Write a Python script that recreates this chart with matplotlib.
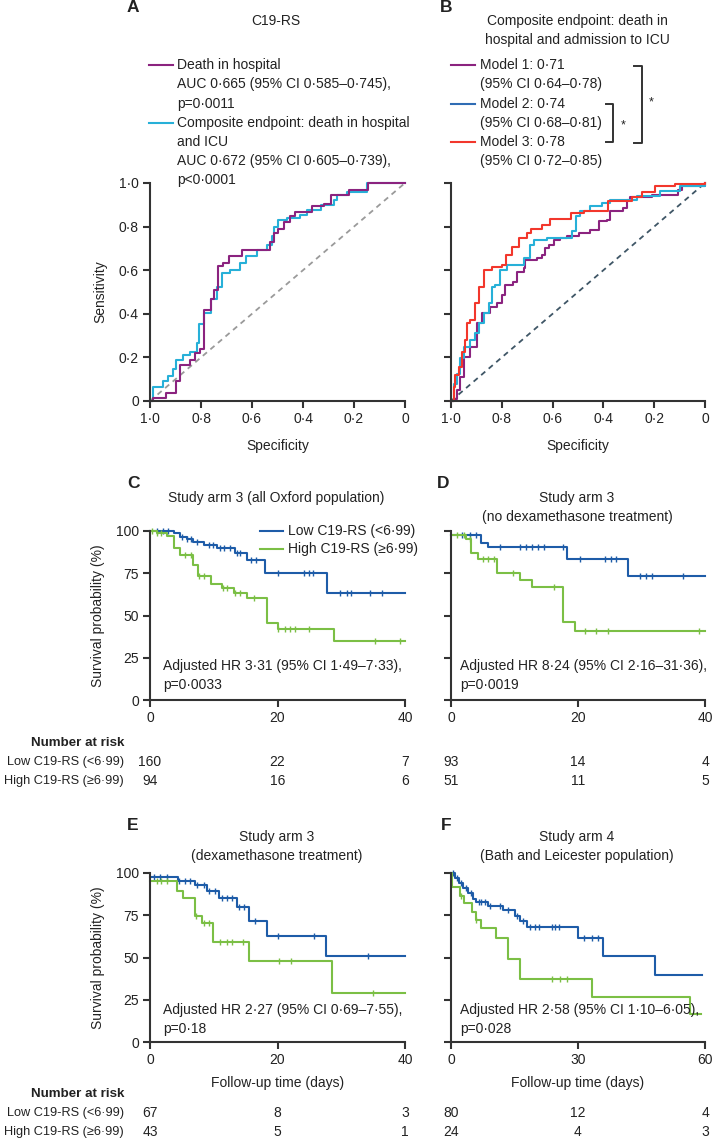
import numpy as np
import matplotlib
matplotlib.use("Agg")
from matplotlib import pyplot as plt
from matplotlib.lines import Line2D

plt.rcParams['font.family'] = ['Liberation Sans', 'DejaVu Sans']
plt.rcParams['font.size'] = 10
FS = 10

W, H = 714, 1139

# ---------------- data: ROC curves (specificity, sensitivity) ----------------
a_death_spec = [1.0, 0.99, 0.938, 0.899, 0.882, 0.843, 0.823, 0.803, 0.79, 0.761, 0.75, 0.735,
                0.714, 0.69, 0.64, 0.53, 0.515, 0.50, 0.475, 0.45, 0.43, 0.364, 0.318, 0.29,
                0.22, 0.145, 0.0]
a_death_sens = [0.0, 0.014, 0.038, 0.092, 0.167, 0.187, 0.22, 0.24, 0.417, 0.47, 0.51, 0.617,
                0.635, 0.666, 0.693, 0.73, 0.77, 0.79, 0.82, 0.847, 0.867, 0.893, 0.903, 0.943,
                0.969, 1.0, 1.0]
a_comp_spec = [1.0, 0.99, 0.948, 0.928, 0.908, 0.9, 0.869, 0.843, 0.816, 0.807, 0.787, 0.761,
               0.738, 0.718, 0.685, 0.646, 0.624, 0.58, 0.541, 0.52, 0.512, 0.50, 0.462, 0.41,
               0.384, 0.331, 0.279, 0.266, 0.226, 0.15, 0.0]
a_comp_sens = [0.0, 0.064, 0.092, 0.113, 0.149, 0.187, 0.21, 0.225, 0.264, 0.353, 0.402, 0.47,
               0.525, 0.586, 0.601, 0.632, 0.663, 0.693, 0.716, 0.755, 0.80, 0.831, 0.839, 0.854,
               0.877, 0.90, 0.923, 0.946, 0.96, 1.0, 1.0]

b_m1_spec = [1.0, 0.99, 0.976, 0.963, 0.95, 0.924, 0.898, 0.878, 0.845, 0.819, 0.799, 0.786,
             0.754, 0.74, 0.714, 0.708, 0.662, 0.642, 0.629, 0.616, 0.596, 0.57, 0.544, 0.498,
             0.452, 0.419, 0.387, 0.374, 0.321, 0.308, 0.295, 0.21, 0.105, 0.092, 0.0]
b_m1_sens = [0.0, 0.011, 0.049, 0.11, 0.202, 0.248, 0.356, 0.402, 0.433, 0.448, 0.486, 0.532,
             0.548, 0.594, 0.609, 0.647, 0.655, 0.67, 0.701, 0.716, 0.739, 0.747, 0.755, 0.77,
             0.785, 0.824, 0.831, 0.87, 0.885, 0.923, 0.936, 0.946, 0.969, 0.985, 1.0]
b_m2_spec = [1.0, 0.99, 0.976, 0.963, 0.95, 0.924, 0.904, 0.891, 0.872, 0.852, 0.839, 0.826,
             0.809, 0.78, 0.714, 0.688, 0.675, 0.623, 0.524, 0.507, 0.491, 0.452, 0.406, 0.374,
             0.269, 0.177, 0.098, 0.0]
b_m2_sens = [0.0, 0.08, 0.126, 0.195, 0.248, 0.279, 0.31, 0.356, 0.402, 0.448, 0.525, 0.532,
             0.601, 0.624, 0.655, 0.716, 0.739, 0.747, 0.778, 0.847, 0.87, 0.893, 0.908, 0.923,
             0.939, 0.962, 0.985, 1.0]
b_m3_spec = [1.0, 0.99, 0.983, 0.97, 0.957, 0.944, 0.937, 0.924, 0.904, 0.891, 0.872, 0.839,
             0.80, 0.784, 0.76, 0.734, 0.701, 0.685, 0.642, 0.61, 0.528, 0.478, 0.38, 0.288,
             0.249, 0.197, 0.118, 0.0]
b_m3_sens = [0.0, 0.064, 0.118, 0.156, 0.225, 0.279, 0.356, 0.371, 0.448, 0.525, 0.601, 0.613,
             0.624, 0.67, 0.706, 0.747, 0.77, 0.788, 0.808, 0.834, 0.862, 0.87, 0.916, 0.936,
             0.957, 0.985, 0.995, 1.0]

# ---------------- data: Kaplan-Meier (time, survival %) ----------------
c_low_t = [0, 3.7, 4.7, 5.75, 6.8, 8.4, 10.5, 13.3, 15.2, 18.1, 27.8]
c_low_s = [100, 98.6, 96.2, 95.1, 93.7, 91.7, 89.7, 86.8, 82.8, 75.3, 63.1]
c_low_cens = [1.05, 2.1, 2.9, 4.98, 5.75, 6.5, 7.3, 9.2, 9.9, 11.0, 11.6, 12.5, 13.6, 14.1,
              15.9, 16.7, 20.1, 24.1, 24.9, 25.6, 29.8, 30.9, 31.6, 34.5, 36.4]
c_high_t = [0, 1.05, 2.6, 3.7, 4.7, 6.8, 7.6, 9.5, 11.3, 13.1, 15.2, 18.3, 20.0, 28.8]
c_high_s = [100, 98.6, 97.0, 89.7, 85.8, 79.9, 73.4, 68.7, 66.1, 63.6, 60.2, 45.4, 41.8, 34.9]
c_high_cens = [0.3, 1.05, 1.8, 5.5, 6.5, 7.7, 8.4, 11.4, 12.1, 13.4, 14.1, 16.3, 20.1, 21.2,
               22.0, 22.7, 24.9, 35.3, 39.2]

d_low_t = [0, 4.8, 5.9, 18.3, 27.8]
d_low_s = [97.6, 92.7, 90.3, 83.6, 73.4]
d_low_cens = [1.7, 3.0, 4.0, 7.7, 10.8, 11.8, 12.7, 13.7, 14.6, 17.6, 20.3, 24.3, 25.2, 26.0,
              29.8, 30.7, 31.6, 36.5]
d_high_t = [0, 2.4, 3.2, 4.2, 7.2, 10.9, 12.7, 17.7, 19.6]
d_high_s = [97.6, 95.3, 86.8, 83.6, 75.3, 71.0, 67.0, 46.3, 41.0]
d_high_cens = [0.95, 2.1, 3.0, 5.0, 5.9, 6.8, 9.7, 16.2, 21.1, 22.9, 24.8, 39.1]

e_low_t = [0, 4.4, 7.1, 8.9, 10.9, 13.7, 15.5, 18.3, 27.6]
e_low_s = [97.4, 95.5, 92.9, 89.5, 85.0, 79.7, 71.8, 62.7, 50.9]
e_low_cens = [0.6, 1.6, 2.6, 4.6, 5.5, 6.3, 7.4, 8.4, 9.2, 10.2, 11.3, 12.0, 12.8, 14.0, 14.7,
              16.5, 20.1, 25.7, 34.2]
e_high_t = [0, 4.3, 5.2, 7.1, 8.1, 9.9, 15.5, 28.6]
e_high_s = [95.5, 89.3, 85.4, 74.6, 70.2, 59.0, 47.9, 29.2]
e_high_cens = [1.05, 1.8, 2.6, 7.2, 8.4, 9.2, 11.0, 12.0, 12.8, 14.6, 20.2, 22.1, 35.0]

f_low_t = [0, 0.94, 1.97, 2.9, 4.1, 5.1, 5.9, 8.8, 12.4, 15.1, 16.3, 18.0, 30.1, 36.0, 48.2]
f_low_s = [100, 96.8, 93.9, 90.9, 88.0, 84.4, 83.0, 80.5, 78.1, 74.6, 71.6, 67.9, 61.7, 50.9, 39.8]
f_low_cens = [0.55, 1.5, 2.4, 3.5, 4.65, 6.5, 7.2, 8.0, 9.2, 11.6, 13.5, 15.5, 17.1, 18.7,
              19.8, 20.9, 23.8, 24.6, 25.4, 31.3, 33.2, 34.8]
f_high_t = [0, 0.15, 2.1, 3.1, 4.9, 5.9, 7.0, 10.6, 13.5, 16.3, 33.2, 56.5]
f_high_s = [100, 91.5, 86.4, 82.0, 77.1, 72.2, 67.3, 61.4, 49.1, 37.1, 26.5, 16.4]
f_high_cens = [2.4, 5.9, 23.8, 25.7, 27.5]

risk_times_40 = [0, 20, 40]
risk_times_60 = [0, 30, 60]
c_risk_low = [160, 22, 7]
c_risk_high = [94, 16, 6]
d_risk_low = [93, 14, 4]
d_risk_high = [51, 11, 5]
e_risk_low = [67, 8, 3]
e_risk_high = [43, 5, 1]
f_risk_low = [80, 12, 4]
f_risk_high = [24, 4, 3]

PURPLE = '#8b237f'
CYAN = '#27b0d8'
BLUE_LEG = '#2f6cb4'
RED = '#f2372c'
KM_BLUE = '#1e5ca8'
KM_GREEN = '#7bbf45'
AX = '#333333'
TXT = '#222222'


def fx(px):
    return px / W


def fy(px):
    return 1 - px / H


fig = plt.figure(figsize=(W / 100, H / 100), dpi=100)


def T(x, y, s, **kw):
    kw.setdefault('va', 'center')
    kw.setdefault('color', TXT)
    return fig.text(fx(x), fy(y), s, **kw)


def new_ax(x0, x1, top, bottom):
    ax = fig.add_axes([fx(x0), fy(bottom), fx(x1) - fx(x0), (bottom - top) / H])
    for side in ['top', 'right']:
        ax.spines[side].set_visible(False)
    for side in ['left', 'bottom']:
        ax.spines[side].set_linewidth(1.5)
        ax.spines[side].set_color(AX)
    ax.tick_params(direction='out', length=5, width=1.5, color=AX, labelsize=FS,
                   labelcolor=TXT, pad=3)
    ax.patch.set_alpha(0)
    return ax


def dot(v):
    if v == 1:
        return '1·0'
    if v == 0:
        return '0'
    return ('%g' % v).replace('.', '·')


LX0, LX1, RX0, RX1 = 150, 405, 451, 705

# ---------------- ROC panels ----------------
for x0, x1, curves, diag_col in [
        (LX0, LX1, [(a_comp_spec, a_comp_sens, CYAN), (a_death_spec, a_death_sens, PURPLE)], '#9a9a9a'),
        (RX0, RX1, [(b_m1_spec, b_m1_sens, PURPLE), (b_m2_spec, b_m2_sens, CYAN),
                    (b_m3_spec, b_m3_sens, RED)], '#3f5666')]:
    ax = new_ax(x0, x1, 183, 401)
    ax.set_xlim(1, 0)
    ax.set_ylim(0, 1)
    ticks = [1, 0.8, 0.6, 0.4, 0.2, 0]
    ax.set_xticks(ticks)
    ax.set_xticklabels([dot(t) for t in ticks])
    ax.set_yticks(ticks)
    if x0 == LX0:
        ax.set_yticklabels([dot(t) for t in ticks])
        ax.set_ylabel('Sensitivity', fontsize=FS, color=TXT, labelpad=8)
    else:
        ax.set_yticklabels([])
    ax.plot([1, 0], [0, 1], ls=(0, (3, 2.5)), color=diag_col, lw=1.3)
    for sp, se, col in curves:
        ax.step(sp, se, where='post', color=col, lw=1.5, clip_on=False)
    ax.set_xlabel('Specificity', fontsize=FS, color=TXT, labelpad=9)

# ---------------- KM panels ----------------
km_panels = [
    (LX0, LX1, 531, 700, 40, [0, 20, 40], (c_low_t, c_low_s, c_low_cens), (c_high_t, c_high_s, c_high_cens), 40, 40, True),
    (RX0, RX1, 531, 700, 40, [0, 20, 40], (d_low_t, d_low_s, d_low_cens), (d_high_t, d_high_s, d_high_cens), 40, 40, False),
    (LX0, LX1, 873, 1042, 40, [0, 20, 40], (e_low_t, e_low_s, e_low_cens), (e_high_t, e_high_s, e_high_cens), 40, 40, True),
    (RX0, RX1, 873, 1042, 60, [0, 30, 60], (f_low_t, f_low_s, f_low_cens), (f_high_t, f_high_s, f_high_cens), 59.3, 59.1, False),
]
km_axes = []
for x0, x1, top, bot, xmax, xt, low, high, end_low, end_high, left in km_panels:
    ax = new_ax(x0, x1, top, bot)
    ax.set_xlim(0, xmax)
    ax.set_ylim(0, 100)
    ax.set_xticks(xt)
    ax.set_yticks([0, 25, 50, 75, 100])
    if left:
        ax.set_ylabel('Survival probability (%)', fontsize=FS, color=TXT, labelpad=8)
    else:
        ax.set_yticklabels([])
    for (t, s, cens), col, end in [(low, KM_BLUE, end_low), (high, KM_GREEN, end_high)]:
        tt = list(t) + [end]
        ss = list(s) + [s[-1]]
        ax.step(tt, ss, where='post', color=col, lw=1.5, clip_on=False)
        idx = np.searchsorted(t, cens, side='right') - 1
        ax.plot(cens, np.array(s)[idx], ls='none', marker='|', ms=5, mew=1.0, color=col,
                clip_on=False)
    km_axes.append(ax)

# ---------------- titles, letters, legends ----------------
LET = dict(fontsize=12.5, fontweight='bold', ha='center')
T(133, 8, 'A', **LET)
T(446, 8, 'B', **LET)
T(133, 483, 'C', **LET)
T(443, 483, 'D', **LET)
T(133, 826, 'E', **LET)
T(446, 826, 'F', **LET)

T(276, 21, 'C19-RS', ha='center')
T(577, 21, 'Composite endpoint: death in', ha='center')
T(577, 40, 'hospital and admission to ICU', ha='center')
T(276, 498, 'Study arm 3 (all Oxford population)', ha='center')
T(577, 498, 'Study arm 3', ha='center')
T(577, 517, '(no dexamethasone treatment)', ha='center')
T(277, 837, 'Study arm 3', ha='center')
T(277, 856, '(dexamethasone treatment)', ha='center')
T(577, 837, 'Study arm 4', ha='center')
T(577, 856, '(Bath and Leicester population)', ha='center')

# legend A
fig.add_artist(Line2D([fx(149), fx(173)], [fy(65), fy(65)], color=PURPLE, lw=1.5))
fig.add_artist(Line2D([fx(149), fx(173)], [fy(123), fy(123)], color=CYAN, lw=1.5))
for y, s in [(65, 'Death in hospital'), (84, 'AUC 0·665 (95% CI 0·585–0·745),'),
             (104, 'p=0·0011'), (123, 'Composite endpoint: death in hospital'),
             (142, 'and ICU'), (161, 'AUC 0·672 (95% CI 0·605–0·739),'), (180, 'p<0·0001')]:
    T(177, y, s)

# legend B
for y, col in [(65, PURPLE), (104, BLUE_LEG), (142, RED)]:
    fig.add_artist(Line2D([fx(451), fx(475)], [fy(y), fy(y)], color=col, lw=1.5))
for y, s in [(65, 'Model 1: 0·71'), (84, '(95% CI 0·64–0·78)'), (104, 'Model 2: 0·74'),
             (123, '(95% CI 0·68–0·81)'), (142, 'Model 3: 0·78'), (161, '(95% CI 0·72–0·85)')]:
    T(480, y, s)
fig.add_artist(Line2D([fx(606), fx(613), fx(613), fx(606)],
                      [fy(104), fy(104), fy(142), fy(142)], color=AX, lw=1.4))
fig.add_artist(Line2D([fx(634), fx(642), fx(642), fx(634)],
                      [fy(66), fy(66), fy(143), fy(143)], color=AX, lw=1.4))
T(623, 125, '*', ha='center', fontsize=9)
T(651, 102, '*', ha='center', fontsize=9)

# legend C
fig.add_artist(Line2D([fx(260), fx(283)], [fy(531), fy(531)], color=KM_BLUE, lw=1.5))
fig.add_artist(Line2D([fx(260), fx(283)], [fy(549), fy(549)], color=KM_GREEN, lw=1.5))
T(288, 531, 'Low C19-RS (<6·99)')
T(288, 549, 'High C19-RS (≥6·99)')

# HR annotations
for x, y, a, p in [(163, 666, 'Adjusted HR 3·31 (95% CI 1·49–7·33),', 'p=0·0033'),
                   (460, 666, 'Adjusted HR 8·24 (95% CI 2·16–31·36),', 'p=0·0019'),
                   (163, 1010, 'Adjusted HR 2·27 (95% CI 0·69–7·55),', 'p=0·18'),
                   (460, 1010, 'Adjusted HR 2·58 (95% CI 1·10–6·05),', 'p=0·028')]:
    T(x, y, a)
    T(x, y + 19, p)

T(278, 1083, 'Follow-up time (days)', ha='center')
T(578, 1083, 'Follow-up time (days)', ha='center')

# numbers at risk
for yh, ylo, yhi in [(743, 762, 781), (1094, 1113, 1132)]:
    T(124, yh, 'Number at risk', ha='right', fontweight='bold', fontsize=9.6)
    T(124, ylo, 'Low C19-RS (<6·99)', ha='right', fontsize=9.2)
    T(124, yhi, 'High C19-RS (≥6·99)', ha='right', fontsize=9.2)

for ax, times, lo, hi, ylo, yhi in [
        (km_axes[0], risk_times_40, c_risk_low, c_risk_high, 762, 781),
        (km_axes[1], risk_times_40, d_risk_low, d_risk_high, 762, 781),
        (km_axes[2], risk_times_40, e_risk_low, e_risk_high, 1113, 1132),
        (km_axes[3], risk_times_60, f_risk_low, f_risk_high, 1113, 1132)]:
    for t, nl, nh in zip(times, lo, hi):
        ax.annotate(str(nl), xy=(t, fy(ylo)), xycoords=('data', 'figure fraction'),
                    ha='center', va='center', color=TXT, fontsize=FS, annotation_clip=False)
        ax.annotate(str(nh), xy=(t, fy(yhi)), xycoords=('data', 'figure fraction'),
                    ha='center', va='center', color=TXT, fontsize=FS, annotation_clip=False)

fig.savefig('out.png', dpi=100)
